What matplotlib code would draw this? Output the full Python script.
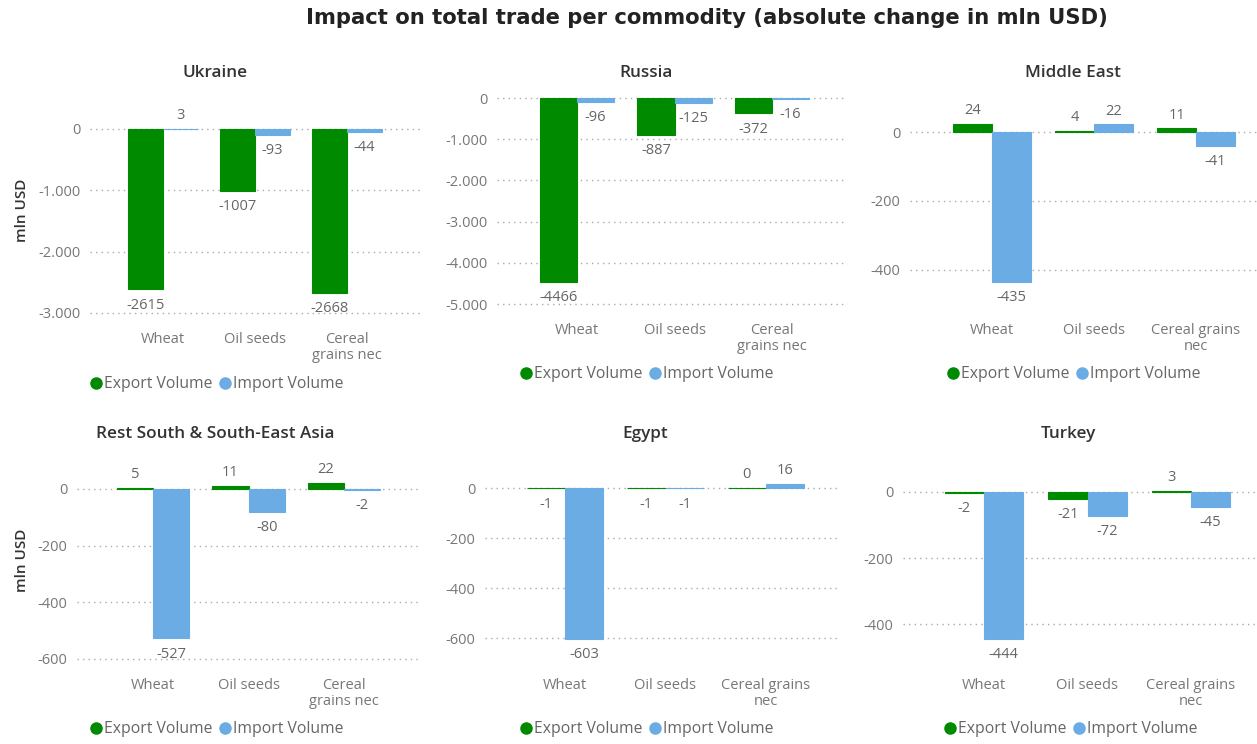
import matplotlib
matplotlib.use("Agg")
import matplotlib.pyplot as plt
from matplotlib import transforms
from matplotlib.lines import Line2D
from matplotlib.ticker import FuncFormatter

W, H = 1257, 744

categories = ["Wheat", "Oil seeds", "Cereal grains nec"]
regions = ["Ukraine", "Russia", "Middle East",
           "Rest South & South-East Asia", "Egypt", "Turkey"]

ukraine_export = [-2615, -1007, -2668]
ukraine_import = [3, -93, -44]
russia_export = [-4466, -887, -372]
russia_import = [-96, -125, -16]
middle_east_export = [24, 4, 11]
middle_east_import = [-435, 22, -41]
rest_asia_export = [5, 11, 22]
rest_asia_import = [-527, -80, -2]
egypt_export = [-1, -1, 0]
egypt_import = [-603, -1, 16]
turkey_export = [-2, -21, 3]
turkey_import = [-444, -72, -45]

exports = [ukraine_export, russia_export, middle_east_export,
           rest_asia_export, egypt_export, turkey_export]
imports = [ukraine_import, russia_import, middle_east_import,
           rest_asia_import, egypt_import, turkey_import]

GREEN = "#008a00"
BLUE = "#6aace3"
TICK = "#777777"
LABEL = "#666666"
DARK = "#333333"

plt.rcParams["font.family"] = ["Open Sans", "DejaVu Sans"]

# layout per panel, in pixels of the 1257x744 canvas:
# left, right, first category x, category spacing, zero y, px per unit,
# ylim, tick step, category label y, legend y, legend centre x, title x, title y, wrap style
layout = [
    (90, 420, 163, 92, 129, 184 / 3000, (-3150, 500), 1000, 338, 384, 216, 215, 73, 0),
    (497, 845, 577, 97.5, 98, 206 / 5000, (-5150, 250), 1000, 329, 374, 646, 646, 73, 0),
    (910, 1257, 992, 102, 132, 69 / 200, (-470, 100), 200, 329, 374, 1073, 1073, 73, 1),
    (77, 420, 153, 95.5, 489, 170 / 600, (-620, 100), 200, 684, 729, 216, 215, 434, 0),
    (485, 840, 565, 100.5, 488, 150 / 600, (-640, 100), 200, 684, 729, 646, 645, 434, 1),
    (903, 1257, 984, 103.5, 492, 132 / 400, (-470, 100), 200, 684, 729, 1070, 1068, 434, 1),
]

fig = plt.figure(figsize=(W / 100, H / 100), dpi=100)
fig.patch.set_facecolor("white")

fig.text(707 / W, 1 - 18 / H, "Impact on total trade per commodity (absolute change in mln USD)",
         ha="center", va="center", fontsize=15.2, fontweight="bold", color="#222222",
         family="DejaVu Sans")

fmt = FuncFormatter(lambda v, _: f"{int(round(v)):,}".replace(",", "."))
bw = 0.38

for k, (name, exp, imp, lay) in enumerate(zip(regions, exports, imports, layout)):
    (left, right, x0, sp, zero, ppu, ylim, step, cat_y,
     leg_y, leg_cx, title_x, title_y, wrap) = lay
    top_px = zero - ylim[1] * ppu
    bot_px = zero - ylim[0] * ppu
    ax = fig.add_axes([left / W, 1 - bot_px / H, (right - left) / W, (bot_px - top_px) / H])
    ax.set_xlim((left - x0) / sp, (right - x0) / sp)
    ax.set_ylim(*ylim)

    xs = list(range(len(categories)))
    ax.bar([x - bw / 2 for x in xs], exp, width=bw, color=GREEN,
           edgecolor=GREEN, linewidth=0.8, zorder=3)
    ax.bar([x + bw / 2 for x in xs], imp, width=bw, color=BLUE,
           edgecolor=BLUE, linewidth=0.8, zorder=3)

    pts = [(x - bw / 2, v) for x, v in zip(xs, exp)] + [(x + bw / 2, v) for x, v in zip(xs, imp)]
    for x, v in pts:
        up = v >= 0
        ax.annotate(str(v), (x, v), xytext=(0, 4 if up else -6), textcoords="offset points",
                    ha="center", va="bottom" if up else "top", fontsize=10.5,
                    color=LABEL, annotation_clip=False)

    ax.set_yticks([t for t in range(0, int(ylim[0]) - 1, -step) if t >= ylim[0]])
    ax.yaxis.set_major_formatter(fmt)
    ax.tick_params(axis="y", length=0, pad=7, labelsize=10.5, labelcolor=TICK)
    ax.set_xticks([])
    for s in ax.spines.values():
        s.set_visible(False)
    ax.grid(True, axis="y", linestyle=(0, (1, 3)), color="#aaaaaa", linewidth=1.0, zorder=0)

    trans = transforms.blended_transform_factory(ax.transData, fig.transFigure)
    for x, c in zip(xs, categories):
        if c == "Cereal grains nec":
            c = "Cereal\ngrains nec" if wrap == 0 else "Cereal grains\nnec"
        ax.text(x, 1 - (cat_y - 6) / H, c, transform=trans, ha="center", va="top",
                fontsize=10.5, color=TICK, linespacing=1.1)

    fig.text(title_x / W, 1 - title_y / H, name, ha="center", va="center",
             fontsize=12.3, color=DARK, fontweight="semibold")

    if k % 3 == 0:
        ax.set_ylabel("mln USD", fontsize=11, color=DARK, fontweight="semibold")
        ylab_y = 210 if k == 0 else 560
        ax.yaxis.set_label_coords((29 - left) / (right - left),
                                  (bot_px - ylab_y) / (bot_px - top_px))

    handles = [Line2D([], [], marker="o", linestyle="", color=GREEN, markersize=8),
               Line2D([], [], marker="o", linestyle="", color=BLUE, markersize=8)]
    fig.legend(handles, ["Export Volume", "Import Volume"], loc="center",
               bbox_to_anchor=(leg_cx / W, 1 - leg_y / H), ncol=2, frameon=False,
               fontsize=11.3, labelcolor=LABEL, handletextpad=0.0, columnspacing=0.3,
               handlelength=1.0, borderaxespad=0)

fig.savefig("out.png", dpi=100, facecolor="white")
